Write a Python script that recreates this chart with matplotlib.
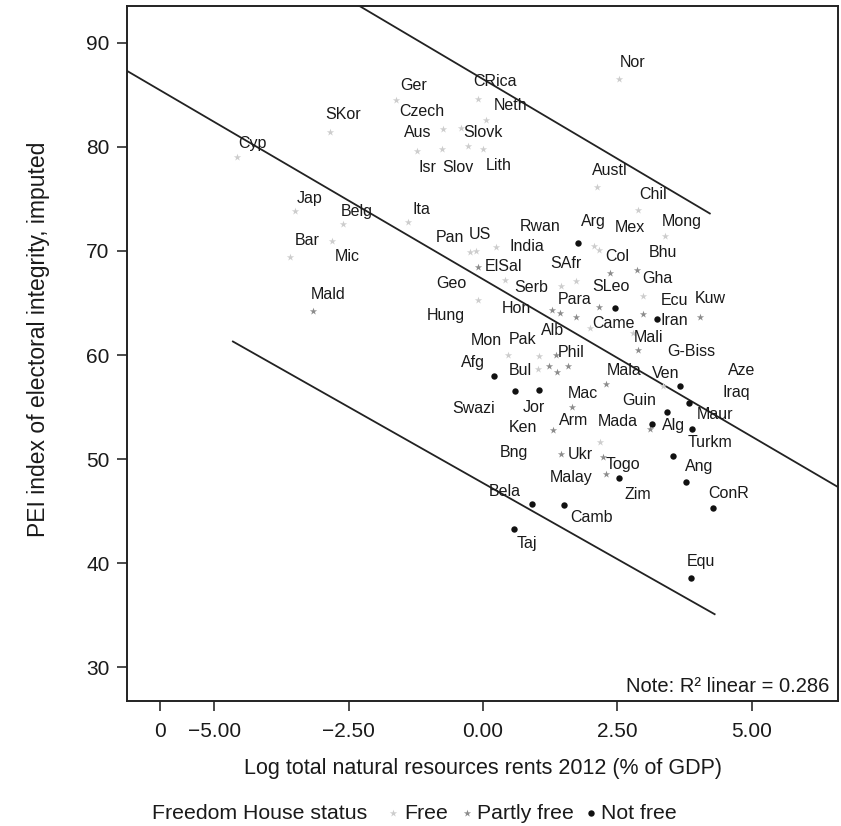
# PEI electoral integrity vs log natural resource rents, scatter with country labels
import matplotlib.pyplot as plt

plt.rcParams['font.family'] = ['Liberation Sans', 'DejaVu Sans']

# Country data: log rents (x), PEI index (y), Freedom House status
names = ['Cyp', 'SKor', 'Ger', 'CRica', 'Neth', 'Aus', 'Czech', 'Isr', 'Slov', 'Slovk',
         'Lith', 'Nor', 'Austl', 'Chil', 'Jap', 'Belg', 'Ita', 'Mic', 'Bar', 'Mald',
         'Pan', 'US', 'India', 'ElSal', 'Hung', 'Rwan', 'Arg', 'Mex', 'Mong', 'Col',
         'Bhu', 'SAfr', 'Serb', 'Geo', 'Gha', 'SLeo', 'Came', 'Ecu', 'Iran', 'Kuw',
         'Hon', 'Para', 'Alb', '', 'Mali', 'G-Biss', 'Phil', 'Pak', 'Mon', 'Bul',
         '', '', 'Mac', 'Afg', 'Swazi', 'Jor', 'Mala', 'Ven', 'Aze', 'Iraq',
         'Guin', 'Alg', 'Mada', 'Maur', 'Arm', 'Ken', 'Ukr', 'Bng', 'Togo', 'Turkm',
         'Malay', 'Zim', 'Ang', 'ConR', 'Bela', 'Camb', 'Taj', 'Equ']
log_rents = [-4.58, -2.85, -1.61, -0.09, 0.06, -0.74, -0.41, -1.23, -0.77, -0.27,
             0.01, 2.53, 2.13, 2.88, -3.50, -2.61, -1.40, -2.81, -3.59, -3.16,
             -0.24, -0.13, 0.25, -0.10, -0.09, 1.77, 2.07, 2.16, 3.39, 2.36,
             2.87, 1.74, 1.46, 0.41, 2.97, 2.16, 2.46, 2.98, 3.23, 4.04,
             1.28, 1.43, 1.74, 1.99, 2.80, 2.89, 1.36, 1.05, 0.47, 1.03,
             1.23, 1.37, 1.59, 0.20, 0.60, 1.05, 2.29, 3.35, 3.67, 3.84,
             3.42, 3.15, 3.11, 3.89, 1.65, 1.31, 2.18, 1.45, 2.23, 3.53,
             2.29, 2.54, 3.77, 4.28, 0.92, 1.51, 0.58, 3.87]
pei = [79.0, 81.4, 84.5, 84.6, 82.6, 81.7, 81.8, 79.6, 79.8, 80.1,
       79.8, 86.5, 76.1, 73.9, 73.8, 72.6, 72.8, 71.0, 69.4, 64.2,
       69.9, 70.0, 70.4, 68.5, 65.3, 70.8, 70.5, 70.1, 71.4, 67.9,
       68.2, 67.1, 66.6, 67.2, 65.7, 64.6, 64.5, 63.9, 63.5, 63.7,
       64.3, 64.0, 63.7, 62.6, 62.1, 60.5, 60.0, 59.9, 60.0, 58.7,
       58.9, 58.4, 58.9, 58.0, 56.5, 56.6, 57.2, 57.0, 57.0, 55.4,
       54.5, 53.4, 52.9, 52.9, 55.0, 52.8, 51.6, 50.5, 50.2, 50.3,
       48.6, 48.2, 47.8, 45.3, 45.7, 45.6, 43.3, 38.6]
# F = Free, P = Partly free, N = Not free
status_code = ['F', 'F', 'F', 'F', 'F', 'F', 'F', 'F', 'F', 'F',
               'F', 'F', 'F', 'F', 'F', 'F', 'F', 'F', 'F', 'P',
               'F', 'F', 'F', 'P', 'F', 'N', 'F', 'F', 'F', 'P',
               'P', 'F', 'F', 'F', 'F', 'P', 'N', 'P', 'N', 'P',
               'P', 'P', 'P', 'F', 'F', 'P', 'P', 'F', 'F', 'F',
               'P', 'P', 'P', 'N', 'N', 'N', 'P', 'F', 'N', 'N',
               'N', 'N', 'P', 'N', 'P', 'P', 'F', 'P', 'P', 'N',
               'P', 'N', 'N', 'N', 'N', 'N', 'N', 'N']

# Label offsets from each point, in pixels (right, down)
label_dx = [16, 13, 17, 17, 24, -25, -39, 11, 16, 15,
            15, 14, 12, 15, 15, 14, 14, 15, 17, 15,
            -20, 4, 31, 26, -32, -38, -1, 31, 17, 7,
            26, -11, -30, -54, 15, 12, -2, 31, 18, 10,
            -35, 15, -24, 0, 15, 53, 15, -17, -22, -18,
            0, 0, 14, -21, -42, -6, 18, 3, 61, 47,
            -28, 21, -32, 23, 2, -30, -20, -47, 20, 37,
            -35, 18, 14, 16, -28, 27, 13, 10]
label_dy = [-14, -18, -15, -17, -14, 3, -17, 16, 19, -13,
            17, -17, -17, -16, -13, -12, -12, 16, -17, -17,
            -14, -16, 0, 0, 16, -16, -24, -22, -15, -16,
            -17, -18, 1, 3, -17, -21, 15, -14, 2, -18,
            -2, -14, 14, 0, 4, 2, -3, -17, -15, 2,
            0, 0, 27, -13, 17, 17, -14, -13, -16, -10,
            -12, 2, -7, -14, 13, -2, 12, -1, 7, -13,
            4, 17, -16, -15, -12, 13, 15, -16]

# Fit line and the two interval lines (end points)
fit_x = [-6.62, 6.61]
fit_y = [87.3, 47.3]
upper_x = [-2.35, 4.22]
upper_y = [93.7, 73.6]
lower_x = [-4.65, 4.31]
lower_y = [61.3, 35.1]

x_ticks = [-6.0, -5.0, -2.5, 0.0, 2.5, 5.0]
x_tick_labels = ['0', '\u22125.00', '\u22122.50', '0.00', '2.50', '5.00']
y_ticks = [30, 40, 50, 60, 70, 80, 90]

status_names = {'F': 'Free', 'P': 'Partly free', 'N': 'Not free'}
styles = {
    'F': dict(marker='*', color='#cdcdcd', size=5.5),
    'P': dict(marker='*', color='#8c8c8c', size=5.5),
    'N': dict(marker='o', color='#111111', size=4.6),
}
text_color = '#1a1a1a'

fig = plt.figure(figsize=(8.41, 8.26), dpi=100)
ax = fig.add_axes([0.151, 0.1517, 0.8458, 0.841])

ax.plot(fit_x, fit_y, color='#222222', lw=1.3, zorder=2)
ax.plot(upper_x, upper_y, color='#222222', lw=1.3, zorder=2)
ax.plot(lower_x, lower_y, color='#222222', lw=1.3, zorder=2)

for code in ['F', 'P', 'N']:
    idx = [i for i, s in enumerate(status_code) if s == code]
    sty = styles[code]
    ax.scatter([log_rents[i] for i in idx], [pei[i] for i in idx], marker=sty['marker'],
               s=sty['size'] ** 2, color=sty['color'], linewidths=0, zorder=3)

for i, name in enumerate(names):
    if name:
        ax.annotate(name, (log_rents[i], pei[i]), xytext=(label_dx[i], -label_dy[i]),
                    textcoords='offset pixels', ha='center', va='center',
                    fontsize=11.5, color=text_color, zorder=4)

ax.set_xlim(-6.62, 6.61)
ax.set_ylim(26.79, 93.53)
ax.set_xticks(x_ticks)
ax.set_xticklabels(x_tick_labels)
ax.set_yticks(y_ticks)
ax.tick_params(direction='out', length=7, width=1.1, labelsize=15, colors=text_color)
ax.tick_params(axis='x', pad=8)
ax.tick_params(axis='y', pad=5.5)
for sp in ax.spines.values():
    sp.set_linewidth(1.4)
    sp.set_color('#222222')

ax.set_xlabel('Log total natural resources rents 2012 (% of GDP)', fontsize=15.5, color=text_color)
ax.set_ylabel('PEI index of electoral integrity, imputed', fontsize=16.5, color=text_color)
ax.xaxis.set_label_coords(0.5, -0.106)
ax.xaxis.label.set_va('baseline')
ax.yaxis.set_label_coords(-0.125, 0.52)
ax.yaxis.label.set_va('center')

ax.text(0.988, 0.021, 'Note: R\u00b2 linear = 0.286', transform=ax.transAxes,
        ha='right', va='center', fontsize=14.5, color=text_color)

# Legend along the bottom, laid out in figure pixels
leg = fig.add_axes([0, 0, 1, 1], zorder=-1)
leg.set_xlim(0, 841)
leg.set_ylim(826, 0)
leg.axis('off')
leg_base = 819
leg.text(152, leg_base, 'Freedom House status', ha='left', va='baseline', fontsize=15.3, color=text_color)
for code, mx, tx in [('F', 393, 404), ('P', 467, 477), ('N', 591, 601)]:
    sty = styles[code]
    leg.scatter([mx], [leg_base - 6], marker=sty['marker'], s=sty['size'] ** 2,
                color=sty['color'], linewidths=0)
    leg.text(tx, leg_base, status_names[code], ha='left', va='baseline', fontsize=15.3, color=text_color)

fig.savefig('out.png', dpi=100)
